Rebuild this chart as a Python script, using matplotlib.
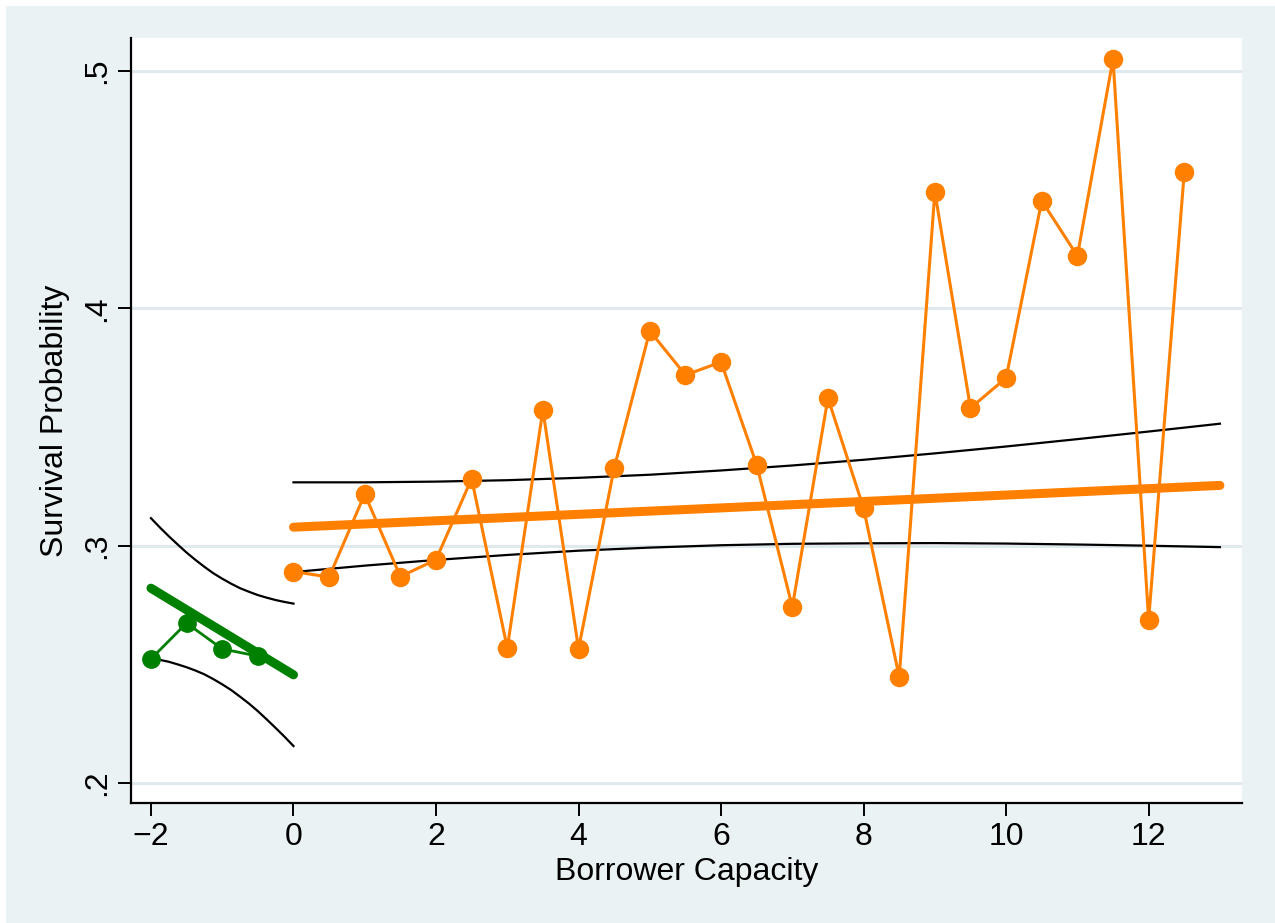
import matplotlib
matplotlib.use("Agg")
import matplotlib.pyplot as plt
from matplotlib.patches import Rectangle

plt.rcParams["font.family"] = ["Liberation Sans", "DejaVu Sans"]

# binned survival probability, negative capacity
cap_neg = [-2, -1.5, -1, -0.5]
surv_neg = [0.2523, 0.2674, 0.2565, 0.2535]

# binned survival probability, non-negative capacity
cap_pos = [0, 0.5, 1, 1.5, 2, 2.5, 3, 3.5, 4, 4.5, 5, 5.5, 6,
           6.5, 7, 7.5, 8, 8.5, 9, 9.5, 10, 10.5, 11, 11.5, 12, 12.5]
surv_pos = [0.2891, 0.2868, 0.3217, 0.2870, 0.2941, 0.3282, 0.2569, 0.3572,
            0.2565, 0.3327, 0.3905, 0.3719, 0.3774, 0.3341, 0.2742, 0.3622,
            0.3158, 0.2447, 0.4491, 0.3580, 0.3707, 0.4453, 0.4221, 0.5050,
            0.2687, 0.4574]

# linear fit and 95% CI, left segment
fit_neg_x = [-2, 0]
fit_neg_y = [0.2821, 0.2456]
ci_neg_x = [-2, -1.875, -1.75, -1.625, -1.5, -1.375, -1.25, -1.125, -1,
            -0.875, -0.75, -0.625, -0.5, -0.375, -0.25, -0.125, 0]
ci_neg_hi = [0.3116, 0.3077, 0.3040, 0.3005, 0.2971, 0.2940, 0.2911, 0.2884, 0.2861,
             0.2840, 0.2821, 0.2806, 0.2792, 0.2781, 0.2771, 0.2763, 0.2756]
ci_neg_lo = [0.2526, 0.2519, 0.2511, 0.2500, 0.2488, 0.2474, 0.2458, 0.2438, 0.2416,
             0.2392, 0.2364, 0.2335, 0.2303, 0.2268, 0.2232, 0.2195, 0.2156]

# linear fit and 95% CI, right segment
fit_pos_x = [0, 13]
fit_pos_y = [0.3078, 0.3254]
ci_pos_x = [0, 1, 2, 3, 4, 5, 6, 7, 8, 9, 10, 11, 12, 13]
ci_pos_hi = [0.3267, 0.3267, 0.3270, 0.3276, 0.3286, 0.3299, 0.3317,
             0.3338, 0.3362, 0.3389, 0.3418, 0.3449, 0.3481, 0.3514]
ci_pos_lo = [0.2889, 0.2916, 0.2940, 0.2961, 0.2979, 0.2992, 0.3002,
             0.3008, 0.3010, 0.3011, 0.3009, 0.3005, 0.3000, 0.2994]

orange = "#ff8000"
green = "#008000"
bg = "#eaf2f3"

fig = plt.figure(figsize=(12.75, 9.23), dpi=100, facecolor="white")
fig.patches.append(Rectangle((6 / 1275, 0), 1, 917 / 923, transform=fig.transFigure,
                             facecolor=bg, edgecolor="none", zorder=-5))

ax = fig.add_axes([131 / 1275, 120 / 923, 1111 / 1275, 765 / 923])
ax.set_facecolor("white")

# confidence bands
for x, lo, hi in [(ci_neg_x, ci_neg_lo, ci_neg_hi), (ci_pos_x, ci_pos_lo, ci_pos_hi)]:
    ax.plot(x, hi, color="black", lw=1.6, zorder=3)
    ax.plot(x, lo, color="black", lw=1.6, zorder=3)

# fitted lines
ax.plot(fit_neg_x, fit_neg_y, color=green, lw=6.5, solid_capstyle="round", zorder=4)
ax.plot(fit_pos_x, fit_pos_y, color=orange, lw=6.5, solid_capstyle="round", zorder=4)

# connected bins
ax.plot(cap_neg, surv_neg, color=green, lw=2, marker="o", ms=12.5, zorder=5)
ax.plot(cap_pos, surv_pos, color=orange, lw=2.2, marker="o", ms=13, zorder=5)

ax.set_xlim(-2.28, 13.31)
ax.set_ylim(0.1916, 0.5139)

ax.set_xticks([-2, 0, 2, 4, 6, 8, 10, 12])
ax.set_xticklabels(["\u22122", "0", "2", "4", "6", "8", "10", "12"])
ax.set_yticks([0.2, 0.3, 0.4, 0.5])
ax.set_yticklabels([".2", ".3", ".4", ".5"], rotation=90, va="center")

ax.grid(axis="y", color="#e0eaee", lw=2.2, zorder=1)
ax.set_axisbelow(True)
for side in ["top", "right"]:
    ax.spines[side].set_visible(False)
for side in ["left", "bottom"]:
    ax.spines[side].set_linewidth(1.6)
    ax.spines[side].set_zorder(6)

ax.tick_params(axis="both", length=9.5, width=1.4, labelsize=23, direction="out")
ax.tick_params(axis="x", pad=4)
ax.tick_params(axis="y", pad=4)

ax.set_xlabel("Borrower Capacity", fontsize=23, labelpad=4)
ax.set_ylabel("Survival Probability", fontsize=23, labelpad=9)

fig.savefig("out.png", dpi=100, facecolor=fig.get_facecolor())
